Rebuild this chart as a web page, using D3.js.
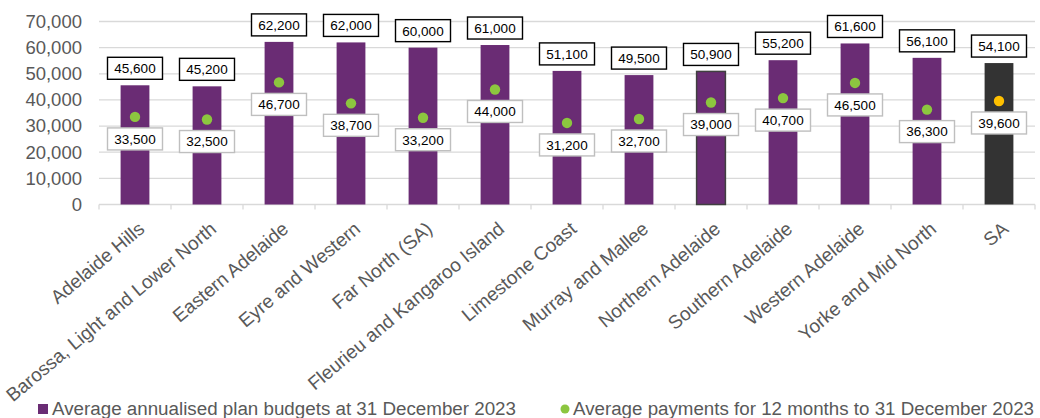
<!DOCTYPE html>
<html>
<head>
<meta charset="utf-8">
<script src="https://cdn.jsdelivr.net/npm/d3@7"></script>
<style>
  body { margin: 0; background: #fff; }
  text { font-family: "Liberation Sans", Arial, sans-serif; }
</style>
</head>
<body>
<div id="chart"></div>
<script>
const regions = [
  'Adelaide Hills', 'Barossa, Light and Lower North', 'Eastern Adelaide',
  'Eyre and Western', 'Far North (SA)', 'Fleurieu and Kangaroo Island',
  'Limestone Coast', 'Murray and Mallee', 'Northern Adelaide',
  'Southern Adelaide', 'Western Adelaide', 'Yorke and Mid North', 'SA'
]
const budgets = [45600, 45200, 62200, 62000, 60000, 61000, 51100, 49500, 50900, 55200, 61600, 56100, 54100]
const payments = [33500, 32500, 46700, 38700, 33200, 44000, 31200, 32700, 39000, 40700, 46500, 36300, 39600]
const yTicks = [0, 10000, 20000, 30000, 40000, 50000, 60000, 70000]
const legendLabels = ['Average annualised plan budgets at 31 December 2023', 'Average payments for 12 months to 31 December 2023']

const width = 1040
const height = 418
const margin = { left: 99, right: 5, top: 21.5, bottom: 213.5 }
const purple = '#6a2c74'
const green = '#8cc63f'
const textGrey = '#595959'
const gridGrey = '#d9d9d9'

const svg = d3.select('#chart').append('svg')
  .attr('width', width)
  .attr('height', height)

const x = d3.scaleBand()
  .domain(regions)
  .range([margin.left, width - margin.right])
  .paddingInner(0.6)
  .paddingOuter(0.3)

const y = d3.scaleLinear()
  .domain([0, 70000])
  .range([height - margin.bottom, margin.top])

const fmt = d3.format(',')

// gridlines
svg.append('g')
  .selectAll('line')
  .data(yTicks.slice(1))
  .join('line')
  .attr('x1', margin.left)
  .attr('x2', width - margin.right)
  .attr('y1', d => y(d))
  .attr('y2', d => y(d))
  .attr('stroke', gridGrey)
  .attr('stroke-width', 1.3)

// y axis labels
const yAxis = svg.append('g')
  .attr('transform', `translate(${margin.left - 17},0)`)
  .call(d3.axisLeft(y).tickValues(yTicks).tickFormat(fmt).tickSize(0).tickPadding(0))
yAxis.select('.domain').remove()
yAxis.selectAll('text')
  .attr('fill', textGrey)
  .style('font-size', '18.5px')
  .style('font-family', '"Liberation Sans", Arial, sans-serif')

// x axis baseline and ticks at band edges
const step = x.step()
const x0 = margin.left
svg.append('line')
  .attr('x1', x0).attr('x2', width - margin.right)
  .attr('y1', y(0)).attr('y2', y(0))
  .attr('stroke', gridGrey).attr('stroke-width', 1.3)
svg.append('g')
  .selectAll('line')
  .data(d3.range(regions.length + 1))
  .join('line')
  .attr('x1', i => x0 + i * step)
  .attr('x2', i => x0 + i * step)
  .attr('y1', y(0))
  .attr('y2', y(0) + 5)
  .attr('stroke', gridGrey)
  .attr('stroke-width', 1.3)

// bars
svg.append('g')
  .selectAll('rect')
  .data(regions)
  .join('rect')
  .attr('x', d => x(d))
  .attr('width', x.bandwidth())
  .attr('y', (d, i) => y(budgets[i]))
  .attr('height', (d, i) => y(0) - y(budgets[i]))
  .attr('fill', d => d === 'SA' ? '#333333' : purple)
  .attr('stroke', d => d === 'Northern Adelaide' ? '#404040' : 'none')
  .attr('stroke-width', 1.5)

// payment dots
svg.append('g')
  .selectAll('circle')
  .data(regions)
  .join('circle')
  .attr('cx', d => x(d) + x.bandwidth() / 2)
  .attr('cy', (d, i) => y(payments[i]))
  .attr('r', 5.2)
  .attr('fill', d => d === 'SA' ? '#ffc000' : green)

// value label boxes
const boxW = 55
const boxH = 22
function labelBox(g, cx, top, value, stroke) {
  g.append('rect')
    .attr('x', cx - boxW / 2)
    .attr('y', top)
    .attr('width', boxW)
    .attr('height', boxH)
    .attr('fill', '#fff')
    .attr('stroke', stroke)
    .attr('stroke-width', 1.4)
  g.append('text')
    .attr('x', cx)
    .attr('y', top + boxH / 2)
    .attr('dy', '0.36em')
    .attr('text-anchor', 'middle')
    .attr('fill', '#000')
    .style('font-size', '13.5px')
    .text(fmt(value))
}

const labels = svg.append('g')
regions.forEach((r, i) => {
  const cx = x(r) + x.bandwidth() / 2
  labelBox(labels, cx, y(budgets[i]) - 6 - boxH, budgets[i], '#000')
  labelBox(labels, cx, y(payments[i]) + 11, payments[i], '#bfbfbf')
})

// category labels
svg.append('g')
  .selectAll('text')
  .data(regions)
  .join('text')
  .attr('transform', d => `translate(${x(d) + x.bandwidth() / 2 + 2},${y(0) + 16}) rotate(-40)`)
  .attr('dy', '0.71em')
  .attr('text-anchor', 'end')
  .attr('fill', textGrey)
  .style('font-size', '19px')
  .text(d => d)

// legend
const legend = svg.append('g')
legend.append('rect')
  .attr('x', 38).attr('y', 404)
  .attr('width', 10).attr('height', 10)
  .attr('fill', purple)
legend.append('text')
  .attr('x', 52).attr('y', 415)
  .attr('fill', textGrey)
  .attr('textLength', 464)
  .attr('lengthAdjust', 'spacingAndGlyphs')
  .style('font-size', '18px')
  .text(legendLabels[0])
legend.append('circle')
  .attr('cx', 565).attr('cy', 409)
  .attr('r', 4.5)
  .attr('fill', green)
legend.append('text')
  .attr('x', 573).attr('y', 415)
  .attr('fill', textGrey)
  .attr('textLength', 461)
  .attr('lengthAdjust', 'spacingAndGlyphs')
  .style('font-size', '18px')
  .text(legendLabels[1])
</script>
</body>
</html>
